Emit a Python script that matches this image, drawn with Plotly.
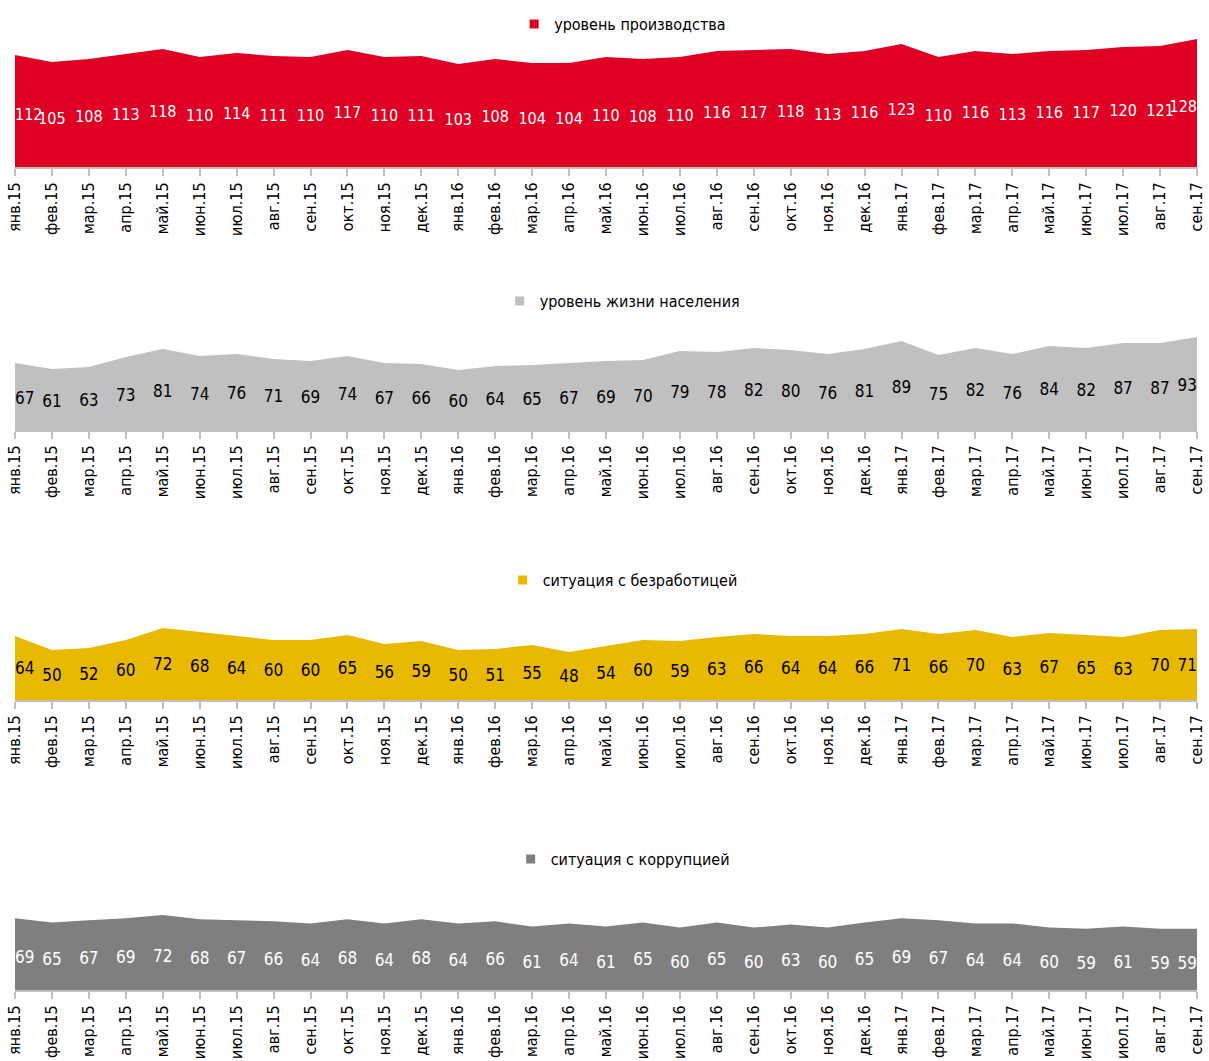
import plotly.graph_objects as go

months = ["янв.15","фев.15","мар.15","апр.15","май.15","июн.15","июл.15","авг.15","сен.15","окт.15","ноя.15","дек.15",
          "янв.16","фев.16","мар.16","апр.16","май.16","июн.16","июл.16","авг.16","сен.16","окт.16","ноя.16","дек.16",
          "янв.17","фев.17","мар.17","апр.17","май.17","июн.17","июл.17","авг.17","сен.17"]

production = [112,105,108,113,118,110,114,111,110,117,110,111,103,108,104,104,110,108,110,116,117,118,113,116,123,110,116,113,116,117,120,121,128]
living = [67,61,63,73,81,74,76,71,69,74,67,66,60,64,65,67,69,70,79,78,82,80,76,81,89,75,82,76,84,82,87,87,93]
unemployment = [64,50,52,60,72,68,64,60,60,65,56,59,50,51,55,48,54,60,59,63,66,64,64,66,71,66,70,63,67,65,63,70,71]
corruption = [69,65,67,69,72,68,67,66,64,68,64,68,64,66,61,64,61,65,60,65,60,63,60,65,69,67,64,64,60,59,61,59,59]

names = ["уровень производства", "уровень жизни населения", "ситуация с безработицей", "ситуация с коррупцией"]
series = [production, living, unemployment, corruption]
colors = ["#DF0024", "#C0C0C0", "#E9B800", "#7F7F7F"]
label_colors = ["white", "black", "black", "white"]

W, H = 1209, 1061
FONT = "DejaVu Sans Condensed, Liberation Sans Narrow, Arial Narrow, sans-serif"

# panel pixel geometry: (baseline_px, top_px, yrange_max, legend_y_px, label_shift_px, label_size)
panels = [(167, 27, 140, 24, 5, 16), (430, 330, 100, 301, 3, 17), (700, 620, 80, 580, 2, 17), (990, 912, 75, 859, 5, 17)]
x0_px, x1_px = 15, 1197

fig = go.Figure()
layout = dict(width=W, height=H, margin=dict(l=0, r=0, t=0, b=0, autoexpand=False),
              paper_bgcolor="white", plot_bgcolor="white",
              font=dict(family=FONT, size=16, color="#000000"))

n = len(months)
positions = ["middle right"] + ["middle center"] * (n - 2) + ["middle left"]

for i, (name, vals, col, lc, (base, top, ymax, legy, shift, lsize)) in enumerate(zip(names, series, colors, label_colors, panels)):
    k = "" if i == 0 else str(i + 1)
    xa, ya = "x" + k, "y" + k
    lg = "legend" + k
    units_per_px = ymax / (base - top)
    fig.add_trace(go.Scatter(x=months, y=vals, mode="lines", fill="tozeroy",
                             line=dict(color=col, width=0), fillcolor=col,
                             name=name, showlegend=False, xaxis=xa, yaxis=ya, hoverinfo="skip"))
    # legend entry (square marker)
    fig.add_trace(go.Scatter(x=[None], y=[None], mode="markers",
                             marker=dict(symbol="square", size=9, color=col),
                             name=name, xaxis=xa, yaxis=ya, legend=lg, hoverinfo="skip"))
    fig.add_trace(go.Scatter(x=months, y=[v / 2 - shift * units_per_px for v in vals], mode="text",
                             text=[str(v) for v in vals], textposition=positions,
                             textfont=dict(family=FONT, size=lsize, color=lc),
                             showlegend=False, xaxis=xa, yaxis=ya, cliponaxis=False, hoverinfo="skip"))
    layout["xaxis" + k] = dict(domain=[x0_px / W, x1_px / W], anchor=ya, type="category",
                               range=[0, n - 1], showgrid=False, zeroline=False, automargin=False,
                               showline=True, linecolor="#BFBFBF", linewidth=2,
                               ticks="outside", ticklen=7, tickcolor="#BFBFBF", tickwidth=2,
                               tickangle=-90, tickfont=dict(family=FONT, size=16, color="#000000"))
    layout["yaxis" + k] = dict(domain=[1 - base / H, 1 - top / H], anchor=xa, automargin=False,
                               range=[0, ymax], visible=False, fixedrange=True)
    layout[lg] = dict(x=0.515, xanchor="center", y=1 - legy / H, yanchor="middle",
                      orientation="h", bgcolor="rgba(0,0,0,0)",
                      font=dict(family=FONT, size=16, color="#000000"),
                      itemwidth=30)

fig.update_layout(**layout)
fig.write_html("out.html", config={"displayModeBar": False},
               post_script="document.body.style.margin='0';")
